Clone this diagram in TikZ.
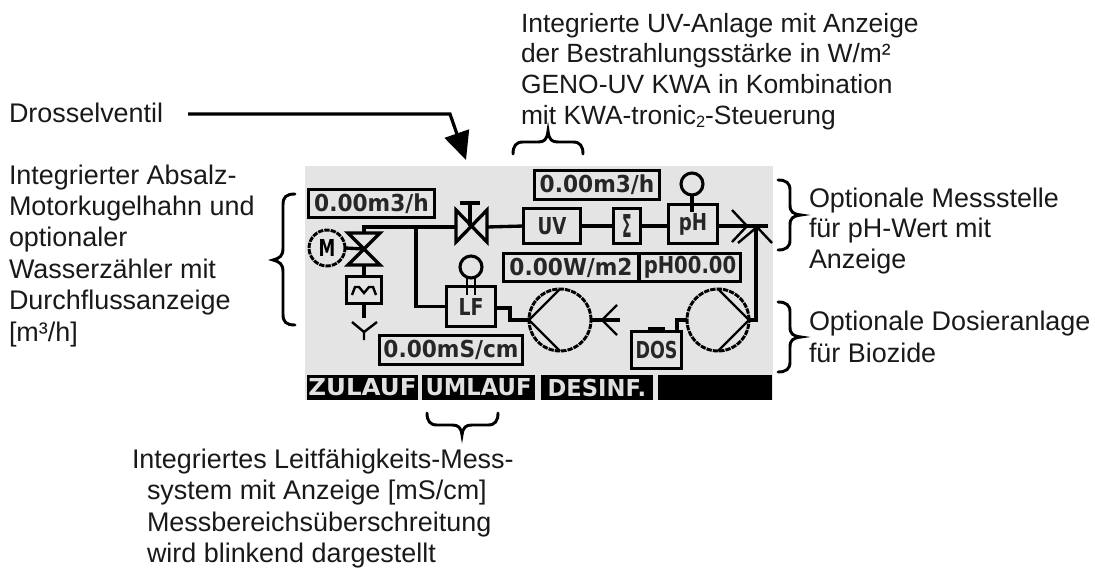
\documentclass[tikz,border=0pt]{standalone}
\usepackage{fontspec}
\setmainfont{Liberation Sans}
\newfontfamily\lcdfont{DejaVu Sans Bold}
\usetikzlibrary{arrows.meta}
\definecolor{lcdbg}{HTML}{E4E4E4}
\newcommand{\firstline}{\rule{0pt}{18pt}}
\newcommand{\lcdtxt}[2]{\scalebox{#1}[1]{\lcdfont\fontsize{17.5pt}{20pt}\selectfont #2}}
\tikzset{
  pipe/.style={line width=2.5pt,line join=miter},
  thinpipe/.style={line width=1.8pt},
  dispbox/.style n args={2}{draw,line width=2.5pt,inner sep=0pt,outer sep=0pt,minimum width=#1*0.75pt,minimum height=#2*0.75pt,text=black!85},
  softkey/.style={fill=black,text=white!88!black,inner sep=0pt,outer sep=0pt,minimum width=#1*0.75pt,minimum height=25*0.75pt},
  pump/.style={draw,line width=2.2pt,circle,dash pattern=on 4pt off 0.8pt,inner sep=0pt,outer sep=0pt,minimum size=#1*0.75pt},
  sensor/.style={draw,line width=2.3pt,circle,inner sep=0pt,outer sep=0pt,minimum size=22*0.75pt},
  note/.style 2 args={anchor=north west,inner sep=0pt,outer sep=0pt,align=left,text=black!90,font=\fontsize{#2}{#1}\selectfont},
  bracket/.style={line width=2.2pt,line cap=round},
  leader/.style={line width=2.4pt,-{Triangle[length=21pt,width=19pt]}}
}
\begin{document}
\begin{tikzpicture}[x=0.75pt,y=-0.75pt]
\useasboundingbox (0,0) rectangle (1095,568);
\fill[lcdbg] (305,166) rectangle (773,400);

% display boxes
\node[dispbox={126}{28}] (flowA) at (371.5,203.5) {\lcdtxt{0.93}{0.00m3/h}};
\node[dispbox={125}{29}] (flowB) at (597,185) {\lcdtxt{0.93}{0.00m3/h}};
\node[dispbox={135}{28}] (irr) at (571,267.5) {\lcdtxt{0.93}{0.00W/m2}};
\node[dispbox={101}{28}] (phval) at (690,267.5) {\lcdtxt{0.84}{pH00.00}};
\node[dispbox={143}{29}] (cond) at (451,350) {\lcdtxt{0.93}{0.00mS/cm}};

% components
\node[dispbox={57}{35}] (uv) at (552,226) {\lcdtxt{0.78}{UV}};
\node[dispbox={27}{35}] (sigma) at (627,226) {\scalebox{0.6}[1.35]{\lcdfont\fontsize{17.5pt}{20pt}\selectfont Σ}};
\node[dispbox={49}{39}] (ph) at (693,224) {\lcdtxt{0.78}{pH}};
\node[dispbox={49}{40}] (lf) at (471,306.5) {\lcdtxt{0.81}{LF}};
\node[dispbox={35}{27}] (meter) at (364,290) {};
\node[dispbox={50}{37}] (dos) at (656.5,350) {\lcdtxt{0.75}{DOS}};
\node[pump=36] (motor) at (327,248) {\lcdtxt{0.72}{M}};
\node[pump=62] (pumpA) at (560,320) {};
\node[pump=62] (pumpB) at (718,320) {};
\node[sensor] (sensLF) at (471,267) {};
\node[sensor] (sensPH) at (692,184) {};

% named points
\coordinate (throttleL) at (456,227);
\coordinate (throttleR) at (487,227);
\coordinate (ball) at (364,249);
\coordinate (balltop) at (364,233);
\coordinate (corner) at (364,227);
\coordinate (tee) at (416,227);
\coordinate (drain) at (364,332);
\coordinate (lfout) at (510,308);
\coordinate (lfdown) at (510,320);
\coordinate (inlet) at (620,320);
\coordinate (forkA) at (602,320);
\coordinate (mainout) at (768,226);
\coordinate (forkB) at (747,226);
\coordinate (joint) at (757,227);
\coordinate (dosup) at (677,320);
\coordinate (dosin) at (677,330);

% pipes
\draw[pipe] (balltop) -- (corner) -- (throttleL);
\draw[pipe] (throttleR) -- (uv.west);
\draw[pipe] (tee) |- (lf.west);
\draw[pipe] (uv.east) -- (sigma.west);
\draw[pipe] (sigma.east) -- (sigma.east -| ph.west);
\draw[pipe] (sigma.east -| ph.east) -- (mainout);
\draw[pipe] (motor.east) -- (ball);
\draw[pipe] (364,265) -- (meter.north);
\draw[pipe] (meter.south) -- (364,318);
\draw[pipe] (lf.east |- lfout) -- (lfout) -- (lfdown) -- (pumpA.west);
\draw[pipe] (pumpA.east) -- (inlet);
\draw[pipe] (pumpB.east) -- ++(7,0) |- (joint);
\draw[pipe] (pumpB.west) -- (dosup) -- (dosin);
\draw[pipe] (sensPH.south) -- (692,212);
\draw[thinpipe] (467,278) -- (467,295) (475,278) -- (475,295);

% valves
\draw[pipe] (456,210) -- (456,242) -- (487,210) -- (487,242) -- cycle;
\draw[pipe] (470,226) -- (470,203) (460,203) -- (480,203);
\draw[pipe] (348,233) -- (380,233) -- (348,265) -- (380,265) -- cycle;

% pump chords and flow forks
\draw[thinpipe] (pumpA.west) -- (pumpA.north) (pumpA.west) -- (pumpA.south);
\draw[thinpipe] (pumpB.east) -- (pumpB.north) (pumpB.east) -- (pumpB.south);
\draw[thinpipe] (617,305) -- (forkA) -- (617,335);
\draw[thinpipe] (732,210) -- (forkB) -- (732,242);
\draw[thinpipe] (738,243) -- (joint) -- (772,243);
\draw[thinpipe] (352,322) -- (drain) -- (377,322) (drain) -- (364,340);

% meter symbol and tank cap
\draw[thinpipe] (352,295) -- (355,287) -- (359,287) -- (364,293) -- (369,287) -- (373,287) -- (376,295);
\fill (648,326.5) rectangle (665,331);

% soft keys
\node[softkey=111] (keyA) at (362.5,387.5) {\lcdtxt{1.05}{ZULAUF}};
\node[softkey=113] (keyB) at (478.5,387.5) {\lcdtxt{0.97}{UMLAUF}};
\node[softkey=112] (keyC) at (597,387.5) {\lcdtxt{0.97}{DESINF.}};
\node[softkey=114] (keyD) at (715,387.5) {};

% annotations
\node[note={23pt}{19.8pt}] (noteUV) at (521,8) {\firstline Integrierte UV-Anlage mit Anzeige\\der Bestrahlungsstärke in W/m²\\GENO-UV KWA in Kombination\\mit KWA-tronic\raisebox{-0.25ex}{\scalebox{0.62}{2}}-Steuerung};
\node[note={23pt}{20.2pt}] (noteD) at (9,98) {\firstline Drosselventil};
\node[note={23.6pt}{20.2pt}] (noteM) at (9,160) {\firstline Integrierter Absalz-\\Motorkugelhahn und\\optionaler\\Wasserzähler mit\\Durchflussanzeige\\{[m³/h]}};
\node[note={23.7pt}{20.2pt}] (noteLF) at (132,444) {\firstline Integriertes Leitfähigkeits-Mess-\\\hspace*{11.25pt}system mit Anzeige [mS/cm]\\\hspace*{11.25pt}Messbereichsüberschreitung\\\hspace*{11.25pt}wird blinkend dargestellt};
\node[note={23.2pt}{20.2pt}] (notePH) at (809,183) {\firstline Optionale Messstelle\\für pH-Wert mit\\Anzeige};
\node[note={24.5pt}{20.2pt}] (noteDOS) at (809,306) {\firstline Optionale Dosieranlage\\für Biozide};

% leader
\coordinate (leadstart) at (188,114);
\coordinate (leadbend) at (450,114);
\coordinate (leadtip) at (466,160);
\draw[leader] (leadstart) -- (leadbend) -- (leadtip);

% brackets
\draw[bracket] (295,194) .. controls (286,194) and (283,197) .. (283,205) -- (283,248) .. controls (283,256) and (280,258) .. (273,260) .. controls (280,262) and (283,264) .. (283,272) -- (283,314) .. controls (283,322) and (286,325) .. (295,325);
\draw[bracket] (778,180) .. controls (786,180) and (790,183) .. (790,190) -- (790,205) .. controls (790,212) and (793,214) .. (801,215) .. controls (793,216) and (790,218) .. (790,225) -- (790,240) .. controls (790,247) and (786,250) .. (778,250);
\draw[bracket] (778,302) .. controls (786,302) and (790,305) .. (790,312) -- (790,327) .. controls (790,334) and (793,336) .. (801,337) .. controls (793,338) and (790,340) .. (790,347) -- (790,362) .. controls (790,369) and (786,372) .. (778,372);
\draw[bracket] (513,154) .. controls (513,146) and (516,142) .. (523,142) -- (538,142) .. controls (544,142) and (547,140) .. (548,131) .. controls (549,140) and (552,142) .. (558,142) -- (573,142) .. controls (580,142) and (583,146) .. (583,154);
\draw[bracket] (427,413) .. controls (427,421) and (430,425) .. (437,425) -- (452,425) .. controls (458,425) and (461,427) .. (462,435) .. controls (463,427) and (466,425) .. (472,425) -- (488,425) .. controls (495,425) and (498,421) .. (498,413);
\end{tikzpicture}
\end{document}
